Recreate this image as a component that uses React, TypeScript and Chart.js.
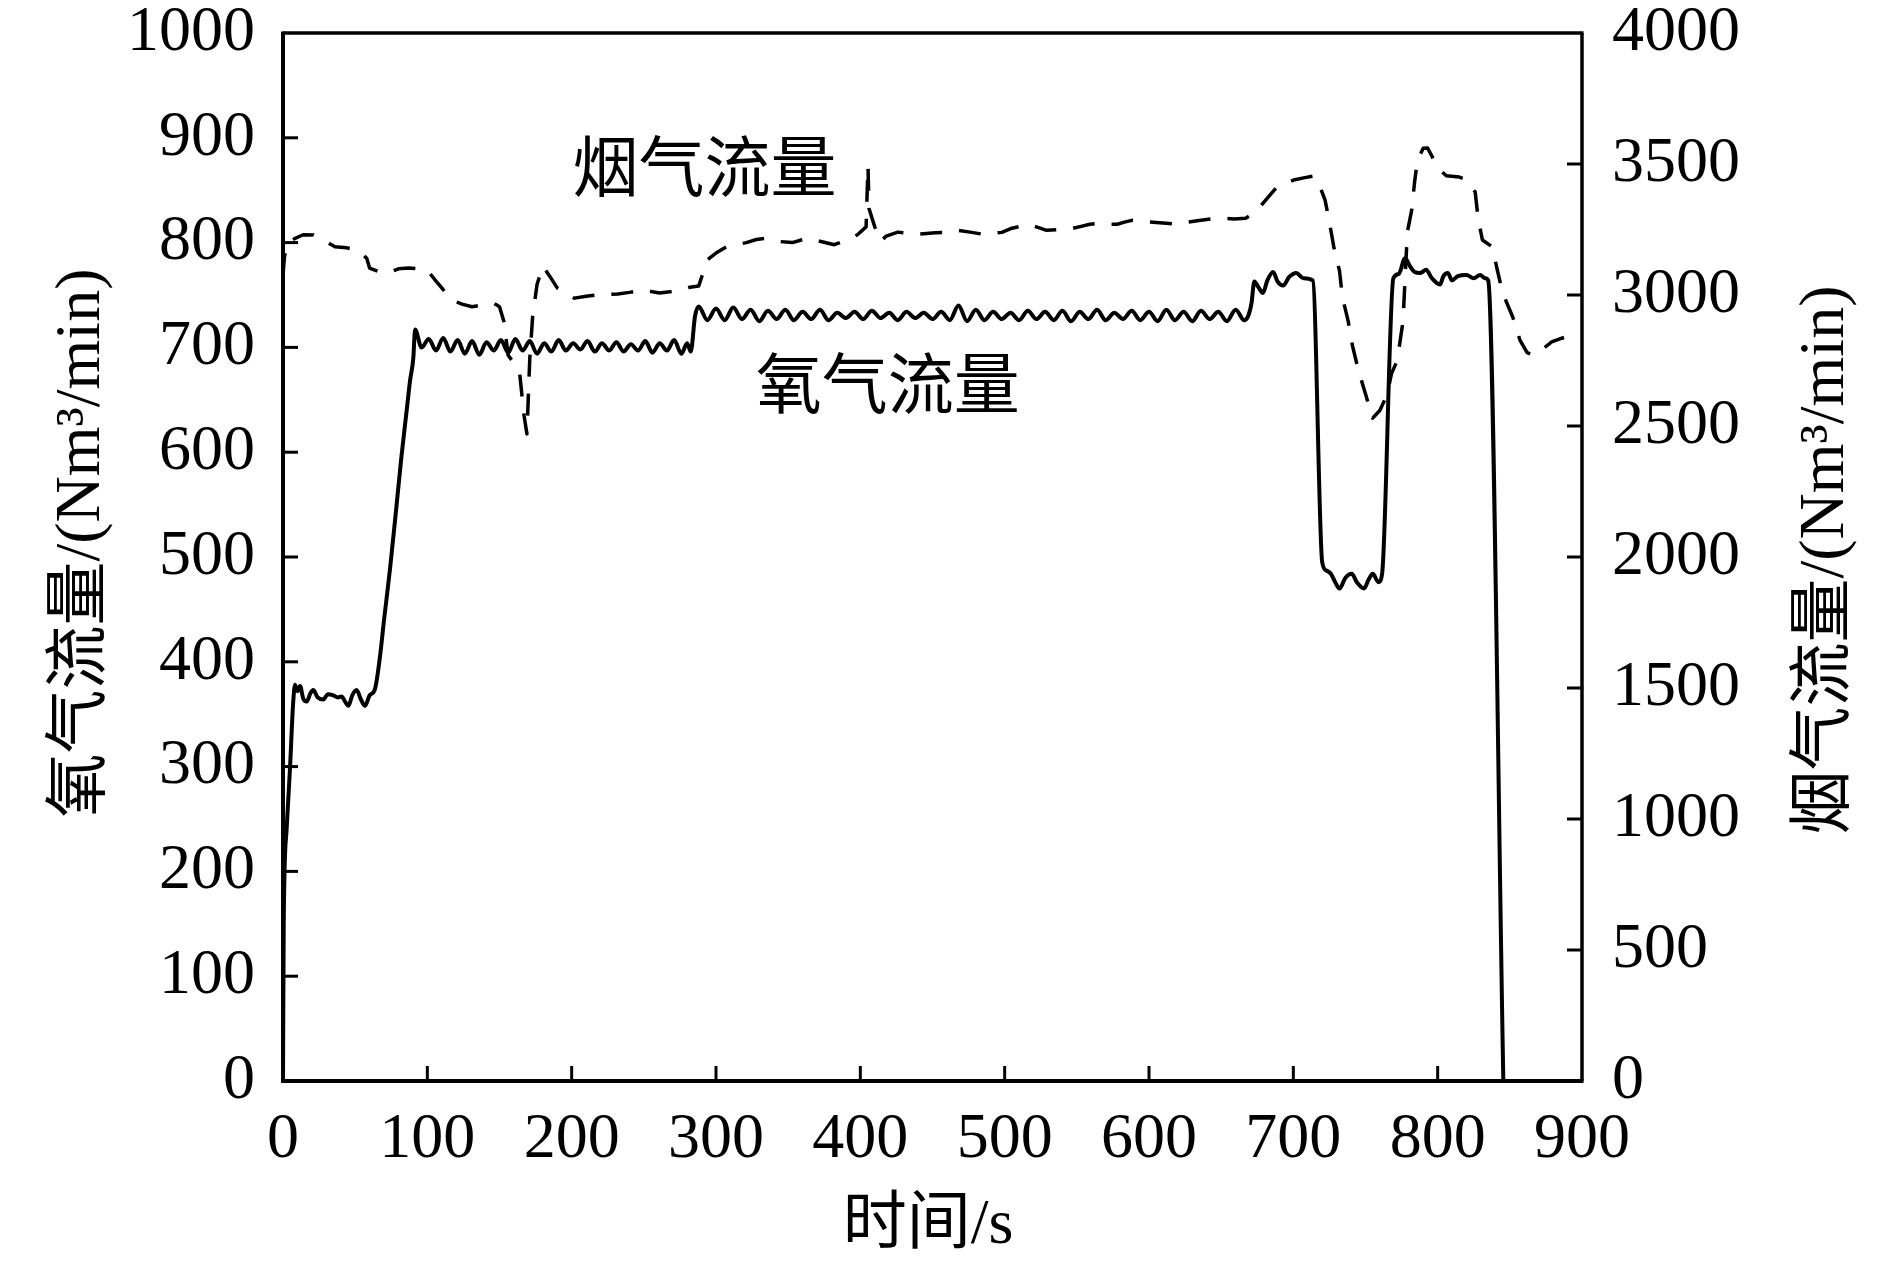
import React, { useEffect, useRef } from 'react';
import Chart from 'chart.js/auto';

// 氧气流量 (左轴, Nm3/min)
const oxygenTime = [
  0, 0.5, 2.5, 4.8, 7, 8.3, 10, 11.8, 14, 16.4, 19, 21, 24, 27.9, 31, 34.9, 38, 40.6, 43, 45.3, 48, 51, 54, 56.8, 60, 63.7,
  67.2, 70, 74.1, 78.8, 82, 85.7, 88, 90.3, 91.5,
  96, 101, 106, 111, 116, 121, 126, 131, 136, 141, 146, 151, 156, 161, 166, 171, 176, 181, 186, 191, 196, 201, 206, 211,
  216, 221, 226, 231, 236, 241, 246, 251, 256, 261, 266, 271, 276, 280, 282.5,
  285.5, 288, 294, 300, 306, 312, 318, 324, 330, 336, 342, 348, 354, 360, 366, 372, 378, 384, 390, 396, 402, 408, 414, 420,
  426, 432, 438, 444, 450, 456, 462, 468, 474, 480, 486, 492, 498, 504, 510, 516, 522, 528, 534, 540, 546, 552, 558, 564,
  570, 576, 582, 588, 594, 600, 606, 612, 618, 624, 630, 636, 642, 648, 654, 660, 666, 669, 671,
  673, 676, 679, 682, 686, 689, 693, 697, 702, 707, 713.5, 720, 723, 726, 729, 732, 736, 740.5, 744, 749, 752, 755, 759,
  761.5, 769.3, 773, 777.4, 781, 784, 788, 792, 796, 801.6, 804, 807, 810, 814, 820, 825, 829.4, 833, 835, 845.5,
];
const oxygenFlow = [
  0, 150, 240, 297, 360, 378, 372, 377, 365, 362, 370, 373, 366, 364, 369, 368, 366, 367, 362, 358, 368, 373, 364, 358, 368, 374,
  405, 440, 488, 551, 595, 640, 668, 690, 717,
  700, 708, 697, 709, 696, 707, 694, 706, 693, 705, 697, 707, 695, 708, 697, 706, 694, 704, 696, 707, 697, 704, 698, 706,
  696, 704, 697, 705, 696, 703, 697, 706, 695, 704, 697, 707, 694, 704, 696,
  730, 739, 726, 737, 726, 738, 727, 736, 725, 735, 727, 736, 726, 734, 727, 736, 726, 733, 728, 734, 727, 735, 728, 733,
  726, 734, 728, 733, 727, 734, 726, 740, 725, 736, 726, 734, 727, 733, 726, 735, 727, 734, 726, 735, 725, 734, 727, 736,
  726, 733, 727, 735, 726, 734, 725, 736, 726, 734, 725, 735, 727, 734, 725, 736, 726, 731, 742,
  763, 757, 752, 764, 772, 763, 759, 767, 771, 766, 764, 495, 487, 484, 476, 470, 480, 484, 476, 470, 478, 484, 476,
  484, 766, 770, 785, 777, 772, 771, 774, 766, 760, 768, 771, 764, 768, 769, 766, 769, 766, 764, 0,
];

// 烟气流量 (右轴, Nm3/min)
const flueTime = [
  0, 1, 3, 8, 14, 21, 28, 36, 44, 52, 58, 60, 66, 73, 80, 87, 94, 100, 105, 110, 114, 117, 124, 131, 138, 146, 150, 153,
  156, 160, 164, 167, 169, 171, 173, 176, 180, 185, 190, 196, 202, 210, 217, 225, 232, 240, 250, 256, 261, 268, 276, 282,
  288, 294, 300, 307, 314, 321, 328, 334, 342, 353, 359, 365, 372, 382, 388, 393, 398, 404, 405.3, 406, 410, 414, 418, 426,
  433, 439, 446, 452, 459, 467, 476, 486, 492, 498, 505, 511, 517, 523, 529, 538, 547, 553, 559, 566, 572, 578, 583, 588,
  596, 605, 612, 619, 627, 636, 643, 651, 659, 667, 672, 676, 682, 688, 695, 701, 708, 714, 718, 722, 725, 728, 732, 734,
  738, 741, 745, 750, 755, 760, 765, 768, 772, 776, 779, 782, 784, 786, 790, 793, 796, 800, 806, 815, 820, 826, 828, 831,
  838, 841, 845, 852, 857, 862, 866, 872, 879, 886, 893, 896,
];
const flueFlow = [
  3076, 3146, 3198, 3215, 3230, 3229, 3210, 3184, 3180, 3172, 3140, 3103, 3090, 3084, 3100, 3103, 3100, 3095, 3060, 3027,
  3000, 2981, 2965, 2955, 2962, 2969, 2955, 2900, 2770, 2740, 2700, 2540, 2470, 2760, 2920, 3040, 3110, 3070, 3027, 3008,
  2988, 2995, 3000, 3002, 3004, 3010, 3019, 3012, 3008, 3012, 3019, 3030, 3034, 3134, 3160, 3183, 3192, 3200, 3212, 3216,
  3205, 3200, 3210, 3216, 3205, 3192, 3205, 3216, 3230, 3260, 3493, 3330, 3260, 3205, 3225, 3240, 3236, 3231, 3235, 3238,
  3239, 3247, 3240, 3231, 3236, 3239, 3255, 3262, 3270, 3258, 3247, 3250, 3254, 3262, 3270, 3274, 3270, 3270, 3278, 3285,
  3280, 3277, 3274, 3270, 3278, 3285, 3290, 3293, 3290, 3293, 3310, 3331, 3370, 3408, 3428, 3440, 3448, 3454, 3420, 3362,
  3278, 3185, 3092, 2992, 2900, 2806, 2714, 2622, 2530, 2560, 2620, 2700, 2750, 2900, 3240, 3324, 3430, 3515, 3560, 3561,
  3530, 3485, 3455, 3450, 3440, 3393, 3293, 3210, 3183, 3103, 3008, 2916, 2828, 2780, 2771, 2790, 2821, 2835, 2847, 2855,
];

const notes = [
  { text: '烟气流量', x: 292, y: 866 },
  { text: '氧气流量', x: 419, y: 659 },
];

const serif = '"Liberation Serif", "Times New Roman", "Noto Sans CJK SC", serif';

const framePlugin: any = {
  id: 'frame',
  afterDraw(chart: any) {
    const { ctx, chartArea: a, scales } = chart;
    ctx.save();
    ctx.strokeStyle = '#000';
    ctx.fillStyle = '#000';

    const line = (x1: number, y1: number, x2: number, y2: number, w: number) => {
      ctx.lineWidth = w;
      ctx.beginPath();
      ctx.moveTo(x1, y1);
      ctx.lineTo(x2, y2);
      ctx.stroke();
    };

    // 边框
    line(a.left, a.top - 1.5, a.left, a.bottom + 2, 4);
    line(a.left - 2, a.bottom, a.right + 1.5, a.bottom, 4);
    line(a.left, a.top, a.right + 1.5, a.top, 3.5);
    line(a.right, a.top, a.right, a.bottom, 3.5);

    // 朝内刻度
    const tl = 15;
    scales.x.ticks.forEach((t: any) => {
      if (t.value <= scales.x.min || t.value >= scales.x.max) return;
      const px = scales.x.getPixelForValue(t.value);
      line(px, a.bottom, px, a.bottom - tl, 3);
    });
    scales.y.ticks.forEach((t: any) => {
      if (t.value <= scales.y.min || t.value >= scales.y.max) return;
      const py = scales.y.getPixelForValue(t.value);
      line(a.left, py, a.left + tl, py, 3);
    });
    scales.y1.ticks.forEach((t: any) => {
      if (t.value <= scales.y1.min || t.value >= scales.y1.max) return;
      const py = scales.y1.getPixelForValue(t.value);
      line(a.right, py, a.right - tl, py, 3);
    });

    // 曲线标注
    ctx.font = '66px ' + serif;
    ctx.textAlign = 'center';
    ctx.textBaseline = 'middle';
    notes.forEach((n) => {
      ctx.fillText(n.text, scales.x.getPixelForValue(n.x), scales.y.getPixelForValue(n.y));
    });

    // 轴标题
    ctx.font = '64px ' + serif;
    ctx.fillText('时间/s', 928, 1226);

    ctx.save();
    ctx.translate(82, 543);
    ctx.rotate(-Math.PI / 2);
    ctx.fillText('氧气流量/(Nm³/min)', 0, 0);
    ctx.restore();

    ctx.save();
    ctx.translate(1826, 560);
    ctx.rotate(-Math.PI / 2);
    ctx.fillText('烟气流量/(Nm³/min)', 0, 0);
    ctx.restore();

    ctx.restore();
  },
};

const tickFont = { family: serif, size: 64, lineHeight: 66 / 64 };
const plain = (v: any) => String(v);

const App = () => {
  const canvasRef = useRef<HTMLCanvasElement>(null);

  useEffect(() => {
    document.body.style.margin = '0';
    const ctx: any = canvasRef.current && canvasRef.current.getContext('2d');

    const config: any = {
      type: 'line',
      data: {
        datasets: [
          {
            label: '氧气流量',
            data: oxygenTime.map((t, i) => ({ x: t, y: oxygenFlow[i] })),
            yAxisID: 'y',
            borderColor: '#000',
            borderWidth: 4,
            pointRadius: 0,
            cubicInterpolationMode: 'monotone',
            borderJoinStyle: 'round',
          },
          {
            label: '烟气流量',
            data: flueTime.map((t, i) => ({ x: t, y: flueFlow[i] })),
            yAxisID: 'y1',
            borderColor: '#000',
            borderWidth: 3.5,
            borderDash: [22, 17],
            pointRadius: 0,
            tension: 0,
            borderJoinStyle: 'round',
          },
        ],
      },
      options: {
        responsive: false,
        devicePixelRatio: 1,
        animation: false,
        layout: { padding: 0 },
        plugins: {
          legend: { display: false },
          tooltip: { enabled: false },
        },
        scales: {
          x: {
            type: 'linear',
            min: 0,
            max: 900,
            grid: { display: false, drawTicks: false },
            border: { display: false },
            ticks: { stepSize: 100, color: '#000', font: tickFont, padding: 26, maxRotation: 0, callback: plain },
            afterFit: (s: any) => { s.height = 188; },
          },
          y: {
            type: 'linear',
            position: 'left',
            min: 0,
            max: 1000,
            grid: { display: false, drawTicks: false },
            border: { display: false },
            ticks: { stepSize: 100, color: '#000', font: tickFont, padding: 28, callback: plain },
            afterFit: (s: any) => { s.width = 283; s.paddingTop = 33; s.paddingBottom = 33; },
          },
          y1: {
            type: 'linear',
            position: 'right',
            min: 0,
            max: 4000,
            grid: { display: false, drawTicks: false },
            border: { display: false },
            ticks: { stepSize: 500, color: '#000', font: tickFont, padding: 30, callback: plain },
            afterFit: (s: any) => { s.width = 308; s.paddingTop = 33; s.paddingBottom = 33; },
          },
        },
      },
      plugins: [framePlugin],
    };

    const chart = new Chart(ctx, config);
    return () => {
      chart.destroy();
    };
  }, []);

  return (
    <div style={{ width: '1890px', height: '1269px', background: '#fff' }}>
      <canvas ref={canvasRef} width={1890} height={1269}></canvas>
    </div>
  );
};

export default App;
